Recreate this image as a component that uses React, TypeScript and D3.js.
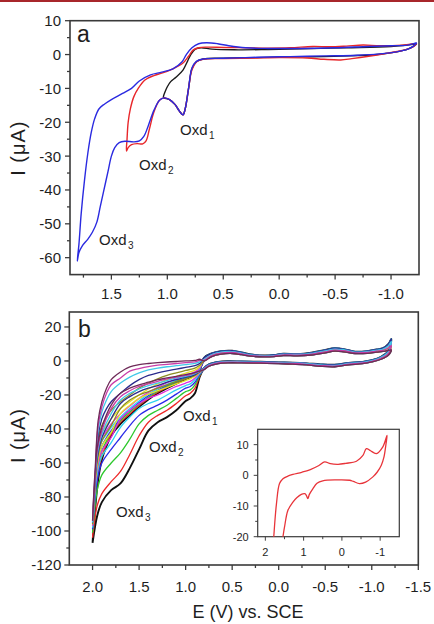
import React from 'react';
import * as d3 from 'd3';

const W = 434;
const H = 624;
const FONT = '"Liberation Sans", Arial, Helvetica, sans-serif';
const AXIS = '#3a3a3a';
const TXT = '#1e1e1e';

type P = [number, number];

// ---------------- Panel a data ----------------
const A_X_TICKS = [1.5, 1.0, 0.5, 0.0, -0.5, -1.0];
const A_X_MINOR = [1.75, 1.25, 0.75, 0.25, -0.25, -0.75];
const A_Y_TICKS = [10, 0, -10, -20, -30, -40, -50, -60];
const A_Y_MINOR = [5, -5, -15, -25, -35, -45, -55];

const A_BLACK: P[] = [
  [-1.23, 3.2], [-1.0, 2.4], [-0.6, 2.0], [-0.2, 1.7], [0.1, 1.5], [0.4, 1.4], [0.6, 1.6], [0.7, 2.0],
  [0.75, 1.6], [0.79, 0], [0.82, -2], [0.86, -4.6], [0.92, -6.6], [0.97, -8], [1.0, -9.5], [1.02, -11],
  [1.035, -12.5], [1.03, -12.8], [0.98, -13.3], [0.93, -14.8], [0.89, -16.8], [0.86, -17.8], [0.84, -16],
  [0.81, -10], [0.78, -4.2], [0.74, -2.1], [0.68, -1.3], [0.5, -1.1], [0.2, -0.9], [-0.1, -0.7],
  [-0.4, -0.6], [-0.7, -0.3], [-0.9, 0.1], [-1.05, 0.8], [-1.15, 1.6], [-1.2, 2.4], [-1.23, 3.2],
];

const A_RED: P[] = [
  [-1.23, 3.3], [-1.1, 2.8], [-0.9, 2.6], [-0.75, 2.8], [-0.6, 2.5], [-0.45, 2.3], [-0.3, 2.4], [-0.1, 2.0],
  [0.1, 1.9], [0.3, 2.0], [0.5, 2.1], [0.65, 2.2], [0.72, 2.0], [0.77, 1.3], [0.81, -0.5], [0.86, -2.5],
  [0.95, -4.2], [1.05, -5.5], [1.12, -6.2], [1.2, -7.5], [1.26, -10], [1.3, -12.5], [1.33, -16], [1.35, -20],
  [1.36, -25], [1.365, -28.5], [1.35, -27.5], [1.32, -26.6], [1.27, -26.3], [1.22, -26.4], [1.19, -25.5],
  [1.16, -22], [1.12, -17], [1.07, -13.5], [1.03, -12.8], [0.98, -13.3], [0.93, -14.8], [0.89, -16.8],
  [0.86, -17.8], [0.84, -16], [0.81, -10], [0.78, -4.5], [0.74, -2.2], [0.68, -1.4], [0.5, -1.2], [0.2, -1],
  [0, -0.9], [-0.25, -1.0], [-0.4, -1.4], [-0.55, -1.6], [-0.65, -1.2], [-0.8, -0.5], [-0.95, 0.3],
  [-1.1, 1.2], [-1.2, 2.3], [-1.23, 3.3],
];

const A_BLUE: P[] = [
  [-1.23, 3.5], [-1.15, 2.8], [-1.0, 2.6], [-0.8, 2.4], [-0.5, 2.0], [-0.2, 1.8], [0.1, 1.8], [0.3, 2.0],
  [0.45, 2.6], [0.55, 3.2], [0.65, 3.5], [0.72, 3.2], [0.78, 2.0], [0.83, 0], [0.87, -2.2], [0.95, -4.2],
  [1.05, -5.2], [1.15, -6.0], [1.25, -7.8], [1.32, -10], [1.4, -11.5], [1.5, -13.3], [1.56, -14.6],
  [1.61, -16], [1.65, -19], [1.68, -23], [1.71, -29], [1.74, -37], [1.77, -47], [1.79, -56], [1.805, -61],
  [1.79, -58.5], [1.76, -56.5], [1.71, -54.5], [1.67, -52.5], [1.63, -49.5], [1.6, -45], [1.57, -40.5],
  [1.53, -34.5], [1.5, -30], [1.47, -27.5], [1.43, -26], [1.38, -25.6], [1.3, -25.8], [1.25, -25.5],
  [1.21, -24.2], [1.17, -21], [1.12, -16.5], [1.07, -13.5], [1.03, -12.8], [0.98, -13.3], [0.93, -14.8],
  [0.89, -16.8], [0.86, -17.8], [0.84, -16], [0.81, -10], [0.78, -4], [0.74, -2], [0.68, -1.3], [0.5, -1.1],
  [0.2, -0.8], [-0.1, -0.6], [-0.4, -0.4], [-0.7, -0.2], [-0.9, 0.2], [-1.05, 0.8], [-1.15, 1.6],
  [-1.2, 2.5], [-1.23, 3.5],
];

// ---------------- Panel b data ----------------
const B_X_TICKS = [2.0, 1.5, 1.0, 0.5, 0.0, -0.5, -1.0, -1.5];
const B_X_MINOR = [1.75, 1.25, 0.75, 0.25, -0.25, -0.75, -1.25];
const B_Y_TICKS = [20, 0, -20, -40, -60, -80, -100, -120];
const B_Y_MINOR = [10, -10, -30, -50, -70, -90, -110];

const B_COLORS = [
  '#111111', '#ee2a2a', '#2ec82e', '#2a2ae8', '#2ed2f0', '#e030e0',
  '#e6e028', '#8c8c22', '#2a2a8c', '#40c8e8', '#c83ca8', '#6e2a58',
];

// oxidation (lower) branch potentials, from 0.85 V to the 2.0 V vertex
const B_LOW_V = [0.85, 0.9, 0.95, 1.0, 1.1, 1.2, 1.3, 1.4, 1.5, 1.6, 1.7, 1.8, 1.9, 1.95, 2.0];
const B_LOW_I = [
  [-9.5, -19, -22, -23.5, -29, -33, -36, -41, -52, -63, -72, -76, -83, -91, -107],
  [-9, -16, -19, -20.5, -25, -29, -32, -36, -44, -55, -65, -71, -78, -85, -104],
  [-8.5, -14, -17, -18, -22, -26, -29, -32, -37, -46, -54, -60, -67, -76, -101],
  [-8, -12.5, -15, -16, -19.5, -23, -26, -28.5, -32, -38, -45, -52, -60, -70, -99],
  [-7.5, -11, -13.5, -14.5, -17, -20, -23, -25, -28, -33, -39, -48, -56, -66, -98],
  [-7, -10, -12, -13, -15, -17.5, -20, -22, -25, -29, -34, -45, -53, -63, -97],
  [-6.8, -9, -10.5, -11.5, -13.5, -15.5, -17.5, -19.5, -22, -26, -31, -42, -50, -61, -96],
  [-6.5, -8.5, -9.5, -10.5, -12, -14, -16, -18, -20, -23, -28, -38, -47, -59, -96],
  [-6.3, -8, -9, -9.5, -11, -12.5, -14.5, -16, -18, -21, -25, -34, -45, -57, -95],
  [-6.2, -7.5, -8.5, -9, -10, -11.5, -13, -14.5, -16.5, -19, -23, -31, -43, -55, -95],
  [-6, -7, -8, -8.5, -9.5, -10.5, -12, -13.5, -15, -17.5, -21, -28, -41, -53, -94],
  [-6, -6.8, -7.5, -8, -9, -10, -11, -12.5, -14, -16, -19, -26, -39, -51, -94],
];

// return (upper) branch potentials, from the vertex back to 0.85 V
const B_UP_V = [1.98, 1.94, 1.9, 1.85, 1.8, 1.7, 1.6, 1.5, 1.4, 1.3, 1.2, 1.1, 1.0, 0.9, 0.85];
const B_UP_I = [
  [-92, -70, -58, -50, -44, -37, -32, -27, -22.6, -19, -16, -13.3, -10.7, -8.2, -5.7],
  [-88, -66, -56, -49, -43, -36, -31, -26.2, -22, -18.4, -15.5, -12.9, -10.4, -8, -5.5],
  [-85, -62, -53, -47, -42, -35, -30, -25.5, -21.3, -17.8, -15, -12.5, -10.1, -7.7, -5.3],
  [-83, -58, -50, -45, -41, -34, -29, -24.5, -20.5, -17.2, -14.4, -12, -9.7, -7.4, -5],
  [-82, -55, -47, -43, -39, -33, -28, -23.5, -19.5, -16.5, -13.8, -11.4, -9.2, -7, -4.6],
  [-80, -52, -45, -41, -37, -31, -26.5, -22, -18.5, -15.5, -12.8, -10.5, -8.5, -6.4, -4.2],
  [-79, -49, -42, -38, -34, -28, -24, -20, -16.5, -13.5, -11, -9, -7.2, -5.4, -3.4],
  [-78, -46, -38, -33, -29, -24, -20, -16, -13, -10.5, -8.5, -7, -5.6, -4.2, -2.5],
  [-77, -44, -34, -28, -24, -19, -14.5, -11, -8.5, -7, -5.8, -4.8, -3.8, -2.8, -1.5],
  [-76, -41, -30, -23, -18, -13, -9.5, -7, -5.3, -4.2, -3.4, -2.8, -2.2, -1.4, -0.5],
  [-75, -38, -27, -19, -14, -10, -6, -4.5, -3.3, -2.5, -2, -1.5, -1, -0.5, 0.3],
  [-74, -35, -24, -16, -11, -6.5, -3.5, -2.2, -1.5, -1, -0.6, -0.3, 0, 0.3, 1],
];

// common region (0.8 V ... -1.21 V), four slightly different traces
const B_RUP_V = [0.8, 0.72, 0.62, 0.5, 0.4, 0.3, 0.15, 0.05, -0.05, -0.2, -0.35, -0.5, -0.6, -0.7, -0.82, -0.95, -1.05, -1.12, -1.18, -1.21];
const B_RUP_I = [
  [2, 4.5, 5.8, 6, 5, 3.8, 3.2, 3.5, 4.3, 4, 4.8, 6.5, 7.5, 7, 5.5, 5.8, 6.8, 7.5, 10, 13],
  [1, 3.8, 5.2, 5.5, 4.6, 3.5, 3.0, 3.2, 4.0, 3.8, 4.5, 6.0, 7.0, 6.6, 5.2, 5.5, 6.4, 7, 9, 11.5],
  [0.5, 3.2, 4.6, 5.0, 4.2, 3.2, 2.7, 2.9, 3.6, 3.4, 4.0, 5.4, 6.4, 6.0, 4.8, 5.0, 5.8, 6.3, 7.6, 9],
  [0, 2.6, 4.0, 4.4, 3.7, 2.8, 2.4, 2.6, 3.2, 3.0, 3.5, 4.8, 5.8, 5.4, 4.4, 4.5, 5.2, 5.6, 6.3, 6.5],
];
const B_RLO_V = [-1.21, -1.18, -1.1, -1.0, -0.9, -0.75, -0.6, -0.45, -0.3, -0.15, 0.0, 0.2, 0.4, 0.55, 0.65, 0.75, 0.8];
const B_RLO_I = [
  [13, 6, 2.5, 0.5, -0.5, -1.2, -2.2, -2, -1.4, -1, -0.8, -0.5, -0.3, -0.2, -0.6, -2, -4],
  [11.5, 5.5, 2.2, 0.2, -0.8, -1.5, -2.6, -2.3, -1.6, -1.2, -1.0, -0.7, -0.5, -0.4, -0.8, -2.3, -4.3],
  [9, 4.5, 1.6, -0.2, -1.2, -1.9, -3.0, -2.7, -2.0, -1.5, -1.3, -1.0, -0.8, -0.7, -1.2, -2.7, -4.7],
  [6.5, 3.5, 1, -0.6, -1.6, -2.3, -3.4, -3.1, -2.3, -1.9, -1.6, -1.3, -1.1, -1.1, -1.6, -3.1, -5],
];

// ---------------- Inset data ----------------
const IN_X_TICKS = [2, 1, 0, -1];
const IN_X_MINOR = [1.5, 0.5, -0.5];
const IN_Y_TICKS = [10, 0, -10, -20];
const IN_Y_MINOR = [5, -5, -15];
const IN_V = [1.95, 1.85, 1.78, 1.71, 1.63, 1.54, 1.4, 1.28, 1.05, 0.84, 0.6, 0.45, 0.3, 0.1, -0.1, -0.38, -0.55, -0.64, -0.75, -0.9, -1.07, -1.18, -1.15, -1.1, -1.03, -0.92, -0.81, -0.62, -0.46, -0.3, -0.2, 0.14, 0.5, 0.65, 0.76, 0.85, 0.89, 0.93, 0.97, 1.06, 1.18, 1.28, 1.41, 1.5, 1.54, 1.62, 1.75, 1.95];
const IN_I = [-60, -34, -20, -9.3, -2.7, -1.1, -0.2, 0.3, 1, 1.8, 3.2, 4.4, 3.8, 3.6, 3.9, 4.6, 6.5, 8.7, 8, 7.1, 9.3, 13, 10, 6, 3.3, 1, -0.5, -2.2, -2.7, -2, -1.6, -1.5, -1.8, -2.6, -4.4, -6.2, -7.6, -6.5, -6, -6.2, -7.3, -8.7, -11.4, -16.9, -20, -27, -40, -60];

// ---------------- helpers ----------------
type Scale = d3.ScaleLinear<number, number>;

function Frame(props: {
  sx: Scale; sy: Scale; xTicks: number[]; xMinor: number[]; yTicks: number[]; yMinor: number[];
  fmtX: (v: number) => string; fmtY: (v: number) => string; fs: number; major: number; minor: number;
  xLabelDy: number; yLabelGap: number; sw: number;
}) {
  const { sx, sy, xTicks, xMinor, yTicks, yMinor, fmtX, fmtY, fs, major, minor, xLabelDy, yLabelGap, sw } = props;
  const [x0, x1] = sx.range();
  const [y0, y1] = sy.range();
  return (
    <g>
      <rect x={x0} y={y1} width={x1 - x0} height={y0 - y1} fill="none" stroke={AXIS} strokeWidth={sw} />
      {xTicks.map((t) => (
        <g key={'xt' + t}>
          <line x1={sx(t)} x2={sx(t)} y1={y0} y2={y0 + major} stroke={AXIS} strokeWidth={sw * 0.8} />
          <text x={sx(t)} y={y0 + xLabelDy} textAnchor="middle" fontSize={fs} fill={TXT} fontFamily={FONT}>{fmtX(t)}</text>
        </g>
      ))}
      {xMinor.map((t) => (
        <line key={'xm' + t} x1={sx(t)} x2={sx(t)} y1={y0} y2={y0 + minor} stroke={AXIS} strokeWidth={sw * 0.8} />
      ))}
      {yTicks.map((t) => (
        <g key={'yt' + t}>
          <line x1={x0 - major} x2={x0} y1={sy(t)} y2={sy(t)} stroke={AXIS} strokeWidth={sw * 0.8} />
          <text x={x0 - yLabelGap} y={sy(t)} dy="0.36em" textAnchor="end" fontSize={fs} fill={TXT} fontFamily={FONT}>{fmtY(t)}</text>
        </g>
      ))}
      {yMinor.map((t) => (
        <line key={'ym' + t} x1={x0 - minor} x2={x0} y1={sy(t)} y2={sy(t)} stroke={AXIS} strokeWidth={sw * 0.8} />
      ))}
    </g>
  );
}

function OxdLabel({ x, y, sub }: { x: number; y: number; sub: string }) {
  return (
    <text x={x} y={y} fontSize={15} fill={TXT} fontFamily={FONT}>
      Oxd
      <tspan fontSize={10} dx={1.5} dy={4}>{sub}</tspan>
    </text>
  );
}

const fmt1 = (v: number) => v.toFixed(1);
const fmt0 = (v: number) => String(v);

export default function App() {
  const axX = d3.scaleLinear().domain([1.87, -1.25]).range([70, 419]);
  const axY = d3.scaleLinear().domain([-65, 10]).range([274.6, 20.7]);
  const bxX = d3.scaleLinear().domain([2.25, -1.5]).range([69.3, 418.3]);
  const bxY = d3.scaleLinear().domain([-120, 28.8]).range([565, 312]);
  const inX = d3.scaleLinear().domain([2.2, -1.5]).range([257.7, 399.3]);
  const inY = d3.scaleLinear().domain([-20, 15]).range([536.7, 429.3]);

  const lineA = d3.line<P>().x((d) => axX(d[0])).y((d) => axY(d[1])).curve(d3.curveCatmullRom.alpha(0.5));
  const lineB = d3.line<P>().x((d) => bxX(d[0])).y((d) => bxY(d[1])).curve(d3.curveCatmullRom.alpha(0.5));
  const lineIn = d3.line<P>().x((d) => inX(d[0])).y((d) => inY(d[1])).curve(d3.curveCatmullRom.alpha(0.5));

  const bLoops: P[][] = B_LOW_I.map((low, k) => {
    const v = k % 4;
    const pts: P[] = [];
    pts.push([B_LOW_V[B_LOW_V.length - 1], low[low.length - 1]]);
    B_UP_V.forEach((x, i) => pts.push([x, B_UP_I[k][i]]));
    B_RUP_V.forEach((x, i) => pts.push([x, B_RUP_I[v][i]]));
    B_RLO_V.forEach((x, i) => { if (i > 0) pts.push([x, B_RLO_I[v][i]]); });
    B_LOW_V.forEach((x, i) => pts.push([x, low[i]]));
    return pts;
  });

  const inset: P[] = IN_V.map((x, i) => [x, IN_I[i]]);

  const [bx0, bx1] = bxX.range();
  const [by0, by1] = bxY.range();
  const [ix0, ix1] = inX.range();
  const [iy0, iy1] = inY.range();

  return (
    <svg width={W} height={H} viewBox={`0 0 ${W} ${H}`} style={{ position: 'absolute', left: 0, top: 0, background: '#fff' }}>
      <defs>
        <clipPath id="clipB"><rect x={bx0} y={by1} width={bx1 - bx0} height={by0 - by1} /></clipPath>
        <clipPath id="clipIn"><rect x={ix0} y={iy1} width={ix1 - ix0} height={iy0 - iy1} /></clipPath>
      </defs>
      <rect x={0} y={0} width={W} height={H} fill="#fff" />
      <rect x={0} y={0} width={W} height={2} fill="#a8262b" />

      {/* ---------- panel a ---------- */}
      <Frame sx={axX} sy={axY} xTicks={A_X_TICKS} xMinor={A_X_MINOR} yTicks={A_Y_TICKS} yMinor={A_Y_MINOR}
        fmtX={fmt1} fmtY={fmt0} fs={15} major={5} minor={3} xLabelDy={24.5} yLabelGap={9} sw={1.6} />
      <path d={lineA(A_BLACK) || ''} fill="none" stroke="#1a1a1a" strokeWidth={1.4} />
      <path d={lineA(A_RED) || ''} fill="none" stroke="#e8262a" strokeWidth={1.4} />
      <path d={lineA(A_BLUE) || ''} fill="none" stroke="#2a2ae0" strokeWidth={1.4} />
      <text x={77} y={42} fontSize={23} fill={TXT} fontFamily={FONT}>a</text>
      <OxdLabel x={180} y={135} sub="1" />
      <OxdLabel x={139} y={170} sub="2" />
      <OxdLabel x={99} y={245} sub="3" />
      <text transform={`translate(25,${(axY.range()[0] + axY.range()[1]) / 2 + 1}) rotate(-90)`} textAnchor="middle"
        fontSize={20} fill={TXT} fontFamily={FONT} textLength={54} lengthAdjust="spacing">I (μA)</text>

      {/* ---------- panel b ---------- */}
      <Frame sx={bxX} sy={bxY} xTicks={B_X_TICKS} xMinor={B_X_MINOR} yTicks={B_Y_TICKS} yMinor={B_Y_MINOR}
        fmtX={fmt1} fmtY={fmt0} fs={15} major={5} minor={3} xLabelDy={26.5} yLabelGap={8} sw={1.6} />
      <g clipPath="url(#clipB)">
        {bLoops.map((pts, k) => (
          <path key={'b' + k} d={lineB(pts) || ''} fill="none" stroke={B_COLORS[k]}
            strokeWidth={k === 0 ? 1.9 : 1.3} />
        ))}
      </g>
      <text x={78} y={337} fontSize={23} fill={TXT} fontFamily={FONT}>b</text>
      <OxdLabel x={183} y={421} sub="1" />
      <OxdLabel x={149} y={452} sub="2" />
      <OxdLabel x={116} y={517} sub="3" />
      <text transform={`translate(25,436) rotate(-90)`} textAnchor="middle"
        fontSize={20} fill={TXT} fontFamily={FONT} textLength={54} lengthAdjust="spacing">I (μA)</text>
      <text x={248} y={618} textAnchor="middle" fontSize={18} fill={TXT} fontFamily={FONT}>E (V) vs. SCE</text>

      {/* ---------- inset ---------- */}
      <Frame sx={inX} sy={inY} xTicks={IN_X_TICKS} xMinor={IN_X_MINOR} yTicks={IN_Y_TICKS} yMinor={IN_Y_MINOR}
        fmtX={fmt0} fmtY={fmt0} fs={11} major={4} minor={2.5} xLabelDy={19} yLabelGap={9} sw={1.2} />
      <g clipPath="url(#clipIn)">
        <path d={lineIn(inset) || ''} fill="none" stroke="#e8343a" strokeWidth={1.3} />
      </g>
    </svg>
  );
}
